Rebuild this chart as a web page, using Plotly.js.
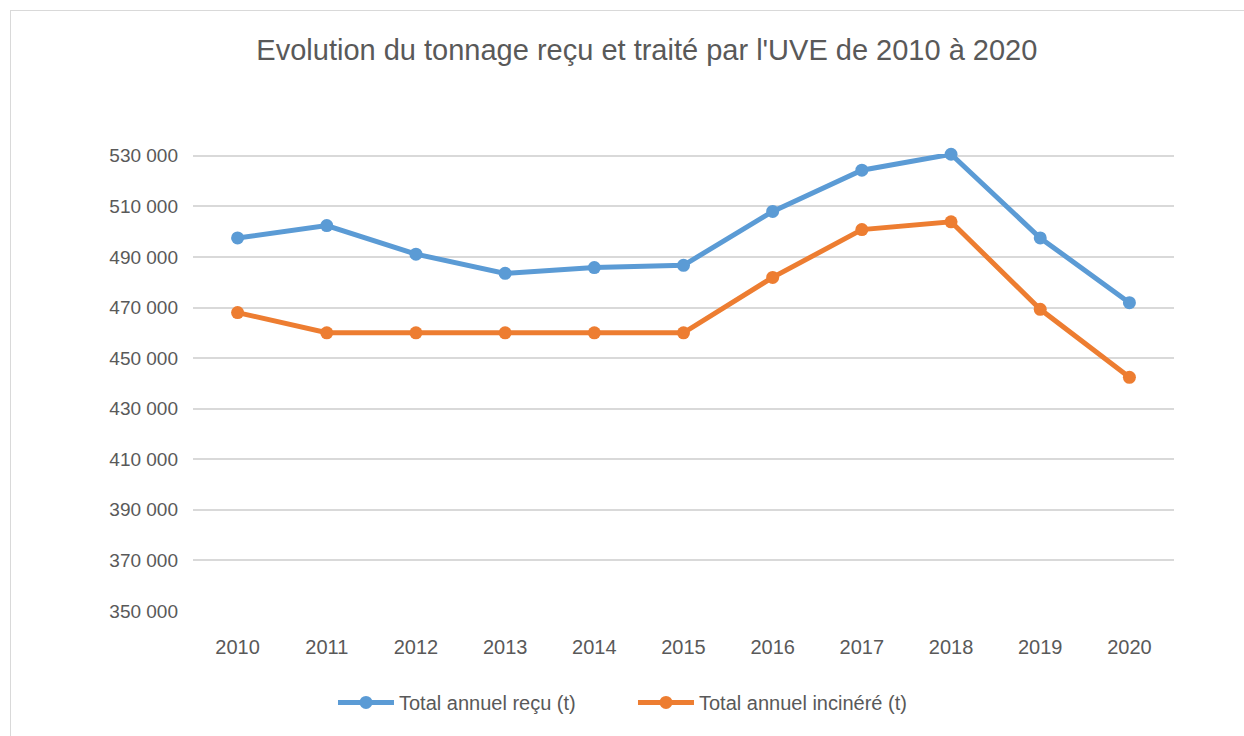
<!DOCTYPE html>
<html>
<head>
<meta charset="utf-8">
<script src="https://cdn.plot.ly/plotly-3.0.1.min.js"></script>
<style>
html,body{margin:0;padding:0;background:#fff;}
#frame{position:absolute;left:10px;top:10px;width:1240px;height:730px;border:1px solid #d9d9d9;box-sizing:border-box;}
#chart{position:absolute;left:0;top:0;width:1244px;height:736px;}
</style>
</head>
<body>
<div id="frame"></div>
<div id="chart"></div>
<script>
const years = ['2010','2011','2012','2013','2014','2015','2016','2017','2018','2019','2020'];
const totalRecu = [497500, 502400, 491100, 483500, 485800, 486700, 508000, 524300, 530600, 497500, 471900];
const totalIncinere = [468000, 460000, 460000, 460000, 460000, 460000, 481900, 500800, 503900, 469300, 442400];
const seriesNames = ['Total annuel reçu (t)', 'Total annuel incinéré (t)'];
const chartTitle = "Evolution du tonnage reçu et traité par l'UVE de 2010 à 2020";
const yTicks = [350000, 370000, 390000, 410000, 430000, 450000, 470000, 490000, 510000, 530000];

const fontFam = '"Liberation Sans Narrow", sans-serif';

const traces = [
  {x: years, y: totalRecu, name: seriesNames[0], type: 'scatter', mode: 'lines+markers',
   line: {color: '#5b9bd5', width: 5}, marker: {color: '#5b9bd5', size: 13}, cliponaxis: false},
  {x: years, y: totalIncinere, name: seriesNames[1], type: 'scatter', mode: 'lines+markers',
   line: {color: '#ed7d31', width: 5}, marker: {color: '#ed7d31', size: 13}, cliponaxis: false}
];

const layout = {
  width: 1244, height: 736,
  paper_bgcolor: 'rgba(0,0,0,0)', plot_bgcolor: 'rgba(0,0,0,0)',
  separators: ', ',
  margin: {l: 193, r: 70, t: 154, b: 125},
  font: {family: fontFam, color: '#595959', size: 20},
  title: {text: chartTitle, font: {family: fontFam, size: 29, color: '#595959'}, x: 0.52, xanchor: 'center', y: 0.932, yanchor: 'middle'},
  xaxis: {type: 'category', range: [-0.5, 10.5], showgrid: false, zeroline: false, showline: false,
          ticks: '', tickfont: {size: 20, color: '#595959'}, ticklabelstandoff: 22, fixedrange: true},
  yaxis: {range: [350000, 530700], tickvals: yTicks, tickformat: ',d',
          showgrid: true, gridcolor: '#d9d9d9', gridwidth: 2, zeroline: false, showline: false,
          ticks: '', tickfont: {size: 19, color: '#595959'}, ticklabelstandoff: 14, fixedrange: true},
  showlegend: true,
  legend: {orientation: 'h', x: 0.1427, xanchor: 'left', y: -0.2, yanchor: 'middle',
           font: {size: 20, color: '#595959'}, itemwidth: 56, entrywidth: 229, entrywidthmode: 'pixels', traceorder: 'normal'},
  hovermode: false
};

Plotly.newPlot('chart', traces, layout, {displayModeBar: false, staticPlot: true});
</script>
</body>
</html>
